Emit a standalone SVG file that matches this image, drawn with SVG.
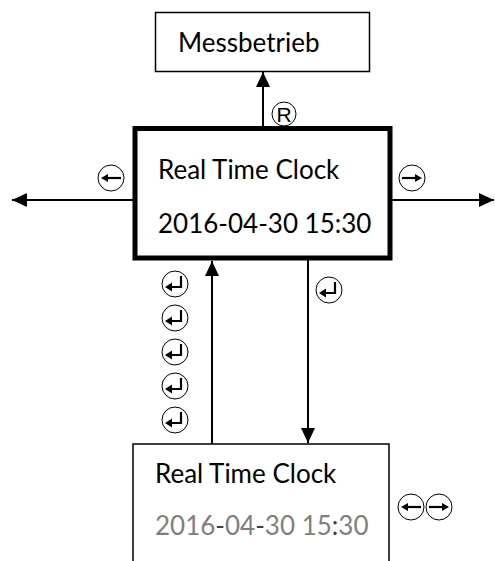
<svg xmlns="http://www.w3.org/2000/svg" width="495" height="561" viewBox="0 0 495 561">
<defs>
<marker id="ah" markerUnits="userSpaceOnUse" markerWidth="16" markerHeight="14" refX="15" refY="7" orient="auto"><path d="M0,0 L15,7 L0,14 Z" fill="#000"/></marker>
<g id="sym-enter"><circle r="13" fill="#fff" stroke="#000" stroke-width="1"/><path d="M6,-8 V3 H-4" fill="none" stroke="#000" stroke-width="2.2"/><path d="M-10,3 L-3,-1.5 L-3,7.5 Z" fill="#000"/></g>
<g id="sym-left"><circle r="13" fill="#fff" stroke="#000" stroke-width="1"/><path d="M10,0 H-4" stroke="#000" stroke-width="2.2"/><path d="M-10,0 L-3,-4 L-3,4 Z" fill="#000"/></g>
<g id="sym-right"><circle r="13" fill="#fff" stroke="#000" stroke-width="1"/><path d="M-10,0 H4" stroke="#000" stroke-width="2.2"/><path d="M10,0 L3,-4 L3,4 Z" fill="#000"/></g>
</defs>
<style>
.t{font-family:Lato,"Open Sans","Liberation Sans",sans-serif;font-size:26px;fill:#000}
.g{fill:#7f7f7f}
.c{fill:none;stroke:#000;stroke-width:2}
.box{fill:#fff;stroke:#000;stroke-width:1.5}
</style>
<rect width="495" height="561" fill="#fff"/>
<g id="connectors">
<line class="c" x1="263" y1="126" x2="263" y2="72" marker-end="url(#ah)"/>
<line class="c" x1="133" y1="200" x2="12" y2="200" marker-end="url(#ah)"/>
<line class="c" x1="392" y1="200" x2="494" y2="200" marker-end="url(#ah)"/>
<line class="c" x1="212" y1="444" x2="212" y2="261" marker-end="url(#ah)"/>
<line class="c" x1="308" y1="260" x2="308" y2="443" marker-end="url(#ah)"/>
<g id="label-r"><circle cx="284" cy="114" r="12" fill="#fff" stroke="#000" stroke-width="1"/><text x="284" y="121.5" text-anchor="middle" font-family="Liberation Sans,sans-serif" font-size="21">R</text></g>
<use href="#sym-left" x="111" y="178"/>
<use href="#sym-right" x="412" y="178"/>
<use href="#sym-enter" x="175" y="284"/>
<use href="#sym-enter" x="175" y="318"/>
<use href="#sym-enter" x="175" y="352"/>
<use href="#sym-enter" x="175" y="386"/>
<use href="#sym-enter" x="175" y="420"/>
<use href="#sym-enter" x="329" y="290"/>
<use href="#sym-left" x="411" y="507"/>
<use href="#sym-right" x="439" y="507"/>
</g>
<g id="messbetrieb">
<rect class="box" x="155.5" y="12.5" width="214" height="59"/>
<text class="t" x="178" y="52">Messbetrieb</text>
</g>
<g id="rtc-main">
<rect x="135" y="128.5" width="255" height="129.5" fill="#fff" stroke="#000" stroke-width="5"/>
<text class="t" x="158" y="179">Real Time Clock</text>
<text class="t" x="158" y="233">2016-04-30 15:30</text>
</g>
<g id="rtc-edit">
<rect class="box" x="133" y="444" width="256" height="130"/>
<text class="t" x="155" y="483">Real Time Clock</text>
<text class="t g" x="155" y="535">2016<tspan fill="#404040">-</tspan>04<tspan fill="#404040">-</tspan>30 15<tspan fill="#404040">:</tspan>30</text>
</g>
</svg>
